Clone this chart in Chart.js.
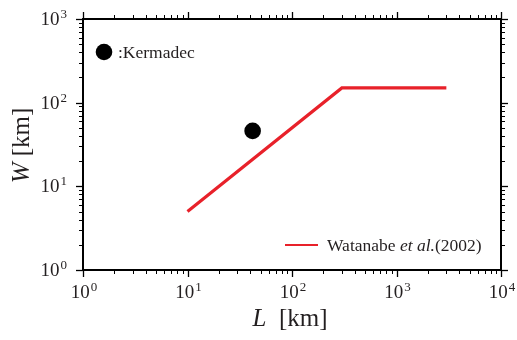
<!DOCTYPE html>
<html>
<head>
<meta charset="utf-8">
<script src="https://cdn.jsdelivr.net/npm/chart.js@4"></script>
<style>
html, body { margin: 0; padding: 0; background: #fff; }
#wrap { width: 517px; height: 340px; }
</style>
</head>
<body>
<div id="wrap"><canvas id="chart" width="517" height="340"></canvas></div>
<script>
// decades on each axis and the exponents printed under them
const xDecades = [1, 10, 100, 1000, 10000];
const yDecades = [1, 10, 100, 1000];
const xExponents = ['0', '1', '2', '3', '4'];
const yExponents = ['0', '1', '2', '3'];

// Kermadec event (rupture length / width, km)
const kermadecL = [42];
const kermadecW = [46];

// Watanabe et al. (2002) scaling relation
const watanabeL = [10, 300, 3000];
const watanabeW = [5, 150, 150];

const TEXT = '#231f20';
const RED = '#e8212a';
const SERIF = '"Liberation Serif", "Times New Roman", serif';

function minorTicks(decades) {
    const out = [];
    for (let i = 0; i < decades.length - 1; i++) {
        for (let k = 2; k <= 9; k++) out.push(decades[i] * k);
    }
    return out;
}

// "10" followed by a raised exponent
function powerLabel(ctx, exp, x, y, align) {
    ctx.font = '19px ' + SERIF;
    const wBase = ctx.measureText('10').width;
    ctx.font = '13px ' + SERIF;
    const wExp = ctx.measureText(exp).width;
    const total = wBase + wExp + 1;
    let left = x;
    if (align === 'center') left = x - total / 2;
    if (align === 'right') left = x - total;
    ctx.textAlign = 'left';
    ctx.textBaseline = 'alphabetic';
    ctx.font = '19px ' + SERIF;
    ctx.fillText('10', left, y);
    ctx.font = '13px ' + SERIF;
    ctx.fillText(exp, left + wBase + 1, y - 7);
}

const frame = {
    id: 'frame',
    beforeDatasetsDraw(chart) {
        const { ctx, chartArea: a, scales: { x, y } } = chart;
        ctx.save();
        ctx.strokeStyle = '#000';

        // ticks, outward on all four sides
        const tick = (len, width, px, py, dx, dy) => {
            ctx.lineWidth = width;
            ctx.beginPath();
            ctx.moveTo(px, py);
            ctx.lineTo(px + dx * len, py + dy * len);
            ctx.stroke();
        };
        minorTicks(xDecades).forEach(v => {
            const px = Math.round(x.getPixelForValue(v)) + 0.5;
            tick(4, 1, px, a.bottom, 0, 1);
            tick(4, 1, px, a.top, 0, -1);
        });
        xDecades.forEach(v => {
            const px = Math.round(x.getPixelForValue(v)) + 0.5;
            tick(7, 1.3, px, a.bottom, 0, 1);
            tick(7, 1.3, px, a.top, 0, -1);
        });
        minorTicks(yDecades).forEach(v => {
            const py = Math.round(y.getPixelForValue(v)) + 0.5;
            tick(4, 1, a.left, py, -1, 0);
            tick(4, 1, a.right, py, 1, 0);
        });
        yDecades.forEach(v => {
            const py = Math.round(y.getPixelForValue(v)) + 0.5;
            tick(7, 1.3, a.left, py, -1, 0);
            tick(7, 1.3, a.right, py, 1, 0);
        });

        ctx.lineWidth = 2;
        ctx.strokeRect(a.left, a.top, a.right - a.left, a.bottom - a.top);

        // tick labels
        ctx.fillStyle = TEXT;
        xDecades.forEach((v, i) => powerLabel(ctx, xExponents[i], x.getPixelForValue(v) + 1, a.bottom + 28, 'center'));
        yDecades.forEach((v, i) => powerLabel(ctx, yExponents[i], a.left - 16, y.getPixelForValue(v) + 6, 'right'));

        // axis titles
        const cx = (a.left + a.right) / 2;
        ctx.textBaseline = 'alphabetic';
        ctx.textAlign = 'left';
        ctx.font = 'italic 25px ' + SERIF;
        const wL = ctx.measureText('L').width;
        ctx.font = '25px ' + SERIF;
        const wRest = ctx.measureText('  [km]').width;
        let sx = cx - (wL + wRest) / 2 - 2;
        ctx.font = 'italic 25px ' + SERIF;
        ctx.fillText('L', sx, 326);
        ctx.font = '25px ' + SERIF;
        ctx.fillText('  [km]', sx + wL, 326);

        ctx.save();
        ctx.translate(29, (a.top + a.bottom) / 2 + 1);
        ctx.rotate(-Math.PI / 2);
        ctx.font = 'italic 25px ' + SERIF;
        const wW = ctx.measureText('W').width;
        ctx.font = '25px ' + SERIF;
        const wKm = ctx.measureText(' [km]').width;
        sx = -(wW + wKm) / 2;
        ctx.font = 'italic 25px ' + SERIF;
        ctx.fillText('W', sx, 0);
        ctx.font = '25px ' + SERIF;
        ctx.fillText(' [km]', sx + wW, 0);
        ctx.restore();

        // legend entries
        ctx.fillStyle = '#000';
        ctx.beginPath();
        ctx.arc(a.left + 21, a.top + 33, 8.3, 0, Math.PI * 2);
        ctx.fill();
        ctx.fillStyle = TEXT;
        ctx.font = '17.5px ' + SERIF;
        ctx.fillText(':Kermadec', a.left + 35, a.top + 39);

        ctx.strokeStyle = RED;
        ctx.lineWidth = 2;
        ctx.beginPath();
        ctx.moveTo(285, a.bottom - 25);
        ctx.lineTo(318, a.bottom - 25);
        ctx.stroke();
        let tx = 327;
        const ty = a.bottom - 19;
        ctx.font = '17.5px ' + SERIF;
        ctx.fillText('Watanabe ', tx, ty);
        tx += ctx.measureText('Watanabe ').width;
        ctx.font = 'italic 17.5px ' + SERIF;
        ctx.fillText('et al.', tx, ty);
        tx += ctx.measureText('et al.').width;
        ctx.font = '17.5px ' + SERIF;
        ctx.fillText('(2002)', tx, ty);

        ctx.restore();
    }
};

const ctx = document.getElementById('chart').getContext('2d');
new Chart(ctx, {
    type: 'scatter',
    data: {
        datasets: [
            {
                label: 'Watanabe et al.(2002)',
                data: watanabeL.map((l, i) => ({ x: l, y: watanabeW[i] })),
                showLine: true,
                borderColor: RED,
                borderWidth: 3.2,
                pointRadius: 0,
                fill: false
            },
            {
                label: 'Kermadec',
                data: kermadecL.map((l, i) => ({ x: l, y: kermadecW[i] })),
                pointRadius: 8.3,
                pointBackgroundColor: '#000',
                pointBorderWidth: 0
            }
        ]
    },
    options: {
        responsive: false,
        animation: false,
        layout: { padding: { top: 19, right: 16, left: 0, bottom: 0 } },
        plugins: { legend: { display: false }, tooltip: { enabled: false } },
        scales: {
            x: {
                type: 'logarithmic', min: 1, max: 10000,
                grid: { display: false }, ticks: { display: false }, border: { display: false },
                afterFit: s => { s.height = 70; }
            },
            y: {
                type: 'logarithmic', min: 1, max: 1000,
                grid: { display: false }, ticks: { display: false }, border: { display: false },
                afterFit: s => { s.width = 83; }
            }
        }
    },
    plugins: [frame]
});
</script>
</body>
</html>
